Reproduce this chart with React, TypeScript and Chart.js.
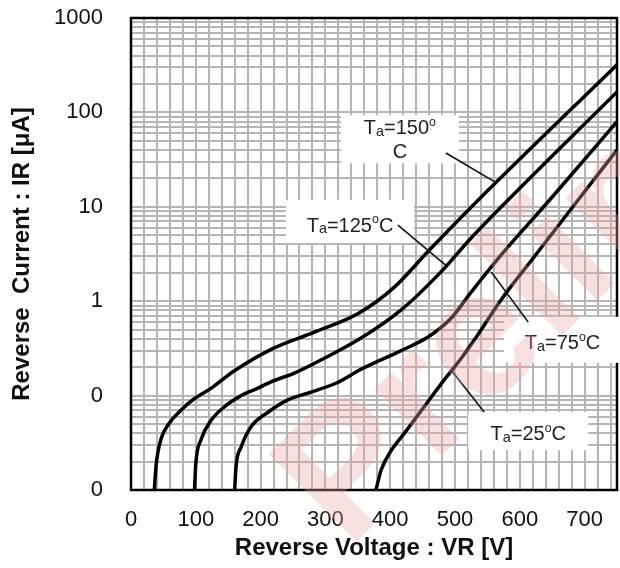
import React, { useEffect, useRef } from 'react';
import { Chart, registerables } from 'chart.js';

Chart.register(...registerables);

// ---------------- data ----------------
const V_150 = [36, 39, 46, 59, 77, 97, 124, 159, 221, 283, 352, 406, 459, 536, 750];
const I_150 = [0.01, 0.019, 0.034, 0.051, 0.07, 0.092, 0.12, 0.182, 0.32, 0.47, 0.75, 1.4, 3.4, 11.8, 320];

const V_125 = [98, 100, 108, 124, 144, 170, 196, 216, 252, 293, 355, 417, 474, 525, 582, 750];
const I_125 = [0.01, 0.019, 0.034, 0.055, 0.076, 0.1, 0.12, 0.14, 0.173, 0.238, 0.407, 0.81, 1.9, 4.67, 11.8, 165];

const V_75 = [160, 162, 170, 185, 212, 242, 278, 317, 355, 417, 459, 494, 525, 571, 646, 750];
const I_75 = [0.01, 0.0175, 0.0285, 0.0465, 0.067, 0.09, 0.109, 0.136, 0.19, 0.3, 0.42, 0.66, 1.25, 3.08, 11.8, 80];

const V_25 = [378, 386, 402, 422, 445, 483, 510, 530, 571, 622, 690, 750];
const I_25 = [0.01, 0.0163, 0.0265, 0.04, 0.065, 0.146, 0.25, 0.39, 1.03, 2.94, 11.8, 40];

const SERIES_NAMES = ['Ta=150°C', 'Ta=125°C', 'Ta=75°C', 'Ta=25°C'];

const X_MIN = 0;
const X_MAX = 750;
const X_GRID_STEP = 20;
const X_LABEL_STEP = 100;

const Y_DECADES = [0.01, 0.1, 1, 10, 100, 1000];
const Y_DECADE_LABELS = ['0', '0', '1', '10', '100', '1000'];

const X_TITLE = 'Reverse Voltage : VR [V]';
const Y_TITLE = 'Reverse  Current : IR [\u03bcA]';

// annotation texts ("_" = small following char, "^" = superscript following char)
const ANNO_TEXTS = [['T_a=150^o', 'C'], ['T_a=125^oC'], ['T_a=75^oC'], ['T_a=25^oC']];
// box centre (data coords) and leader endpoints (data coords)
const ANNO_BOX_AT = [[415, 52], [338, 7.0], [666, 0.39], [613, 0.042]];
const ANNO_BOX_SIZE = [[118, 48], [128, 43], [117, 46], [120, 38]];
const ANNO_TEXT_DY = [0, 3, 2, 2];
const ANNO_LEADERS = [
  [[486, 37.2], [564, 17.9]],
  [[412, 6.4], [486, 2.4]],
  [[613, 0.6], [556, 2.04]],
  [[545, 0.067], [494, 0.187]],
];

const WATERMARK = 'Preliminary';

// ---------------- helpers ----------------
const FONT = "'Liberation Sans', Arial, Helvetica, sans-serif";

const SERIES = [
  { name: SERIES_NAMES[0], v: V_150, i: I_150 },
  { name: SERIES_NAMES[1], v: V_125, i: I_125 },
  { name: SERIES_NAMES[2], v: V_75, i: I_75 },
  { name: SERIES_NAMES[3], v: V_25, i: I_25 },
];

function xTickValues(): number[] {
  const out: number[] = [];
  for (let v = X_MIN; v < X_MAX; v += X_GRID_STEP) out.push(v);
  return out;
}

function yTickValues(): number[] {
  const out: number[] = [];
  for (let d = 0; d < Y_DECADES.length - 1; d++) {
    for (let m = 1; m <= 9; m++) out.push(+(Y_DECADES[d] * m).toPrecision(6));
  }
  out.push(Y_DECADES[Y_DECADES.length - 1]);
  return out;
}

function yLabel(v: number): string {
  for (let k = 0; k < Y_DECADES.length; k++) {
    if (Math.abs(v / Y_DECADES[k] - 1) < 1e-6) return Y_DECADE_LABELS[k];
  }
  return '';
}

type Seg = { t: string; size: number; dy: number };

function parseRich(s: string, base: number): Seg[] {
  const segs: Seg[] = [];
  let buf = '';
  for (let k = 0; k < s.length; k++) {
    const c = s[k];
    if ((c === '_' || c === '^') && k + 1 < s.length) {
      if (buf) { segs.push({ t: buf, size: base, dy: 0 }); buf = ''; }
      const ch = s[k + 1];
      if (c === '_') segs.push({ t: ch, size: base * 0.72, dy: 1.5 });
      else segs.push({ t: ch, size: base * 0.62, dy: -base * 0.42 });
      k++;
    } else buf += c;
  }
  if (buf) segs.push({ t: buf, size: base, dy: 0 });
  return segs;
}

function drawRich(ctx: CanvasRenderingContext2D, s: string, cx: number, cy: number, base: number) {
  const segs = parseRich(s, base);
  let w = 0;
  for (const g of segs) {
    ctx.font = `${g.size}px ${FONT}`;
    w += ctx.measureText(g.t).width;
  }
  let x = cx - w / 2;
  const baseline = cy + base * 0.36;
  ctx.textAlign = 'left';
  ctx.textBaseline = 'alphabetic';
  for (const g of segs) {
    ctx.font = `${g.size}px ${FONT}`;
    ctx.fillText(g.t, x, baseline + g.dy);
    x += ctx.measureText(g.t).width;
  }
}

const overlayPlugin = {
  id: 'overlay',
  afterDraw(chart: any) {
    const { ctx, chartArea, scales } = chart;
    const xs = scales.x;
    const ys = scales.y;
    ctx.save();
    // frame
    ctx.strokeStyle = '#000';
    ctx.lineWidth = 2.5;
    ctx.strokeRect(chartArea.left, chartArea.top, chartArea.right - chartArea.left, chartArea.bottom - chartArea.top);

    // annotation boxes, text, leaders
    for (let k = 0; k < ANNO_TEXTS.length; k++) {
      const cx = xs.getPixelForValue(ANNO_BOX_AT[k][0]);
      const cy = ys.getPixelForValue(ANNO_BOX_AT[k][1]);
      const [w, h] = ANNO_BOX_SIZE[k];
      ctx.fillStyle = '#fff';
      ctx.fillRect(cx - w / 2, cy - h / 2, w, h);
      ctx.fillStyle = '#222';
      const lines = ANNO_TEXTS[k];
      const lh = 24;
      for (let j = 0; j < lines.length; j++) {
        const ly = cy + ANNO_TEXT_DY[k] + (j - (lines.length - 1) / 2) * lh;
        drawRich(ctx, lines[j], cx, ly, 20);
      }
      const [[x1, y1], [x2, y2]] = ANNO_LEADERS[k];
      ctx.strokeStyle = '#111';
      ctx.lineWidth = 1.6;
      ctx.beginPath();
      ctx.moveTo(xs.getPixelForValue(x1), ys.getPixelForValue(y1));
      ctx.lineTo(xs.getPixelForValue(x2), ys.getPixelForValue(y2));
      ctx.stroke();
    }

    // watermark
    ctx.translate(348, 550);
    ctx.rotate((-45 * Math.PI) / 180);
    ctx.font = `bold 180px ${FONT}`;
    ctx.textAlign = 'left';
    ctx.textBaseline = 'alphabetic';
    ctx.fillStyle = 'rgba(238,165,165,0.34)';
    ctx.fillText(WATERMARK, 0, 0);
    ctx.restore();
  },
};

export default function App() {
  const ref = useRef<HTMLCanvasElement>(null);

  useEffect(() => {
    const canvas = ref.current;
    if (!canvas) return;
    const tickFont = { family: FONT, size: 22 };
    const titleFont = { family: FONT, size: 24, weight: 'bold' as const };
    const chart = new Chart(canvas, {
      type: 'scatter',
      data: {
        datasets: SERIES.map((s) => ({
          label: s.name,
          data: s.v.map((x, k) => ({ x, y: s.i[k] })),
          showLine: true,
          borderColor: '#000',
          borderWidth: 3.5,
          pointRadius: 0,
          pointHoverRadius: 0,
          cubicInterpolationMode: 'monotone' as const,
          fill: false,
        })),
      },
      options: {
        animation: false,
        responsive: false,
        devicePixelRatio: 1,
        events: [],
        layout: { padding: { top: 18, right: 3, left: 0, bottom: 0 } },
        plugins: { legend: { display: false }, tooltip: { enabled: false } },
        scales: {
          x: {
            type: 'linear',
            min: X_MIN,
            max: X_MAX,
            afterBuildTicks: (s: any) => {
              s.ticks = xTickValues().map((value) => ({ value }));
            },
            afterFit: (s: any) => {
              s.height = 78;
              s.paddingLeft = 0;
              s.paddingRight = 0;
              s.paddingTop = 0;
              s.paddingBottom = 0;
            },
            ticks: {
              autoSkip: false,
              maxRotation: 0,
              minRotation: 0,
              padding: 17,
              color: '#111',
              font: tickFont,
              callback: (v: any) => (Number(v) % X_LABEL_STEP === 0 ? String(v) : ''),
            },
            grid: { color: '#b5b5b5', lineWidth: 2, drawTicks: false },
            border: { display: false },
            title: { display: true, text: X_TITLE, color: '#111', font: titleFont, padding: { top: 0, bottom: 5 } },
          },
          y: {
            type: 'logarithmic',
            min: Y_DECADES[0],
            max: Y_DECADES[Y_DECADES.length - 1],
            afterBuildTicks: (s: any) => {
              s.ticks = yTickValues().map((value) => ({ value }));
            },
            afterFit: (s: any) => {
              s.width = 131;
              s.paddingLeft = 0;
              s.paddingRight = 0;
              s.paddingTop = 0;
              s.paddingBottom = 0;
            },
            ticks: {
              autoSkip: false,
              padding: 28,
              color: '#111',
              font: tickFont,
              callback: (v: any) => yLabel(Number(v)),
            },
            grid: { color: '#b5b5b5', lineWidth: 2, drawTicks: false },
            border: { display: false },
            title: { display: true, text: Y_TITLE, color: '#111', font: titleFont, padding: { top: 8, bottom: 0 } },
          },
        },
      } as any,
      plugins: [overlayPlugin],
    });
    return () => chart.destroy();
  }, []);

  return (
    <div style={{ position: 'fixed', left: 0, top: 0, width: 620, height: 568, background: '#fff' }}>
      <canvas ref={ref} width={620} height={568} style={{ display: 'block', width: 620, height: 568 }} />
    </div>
  );
}
